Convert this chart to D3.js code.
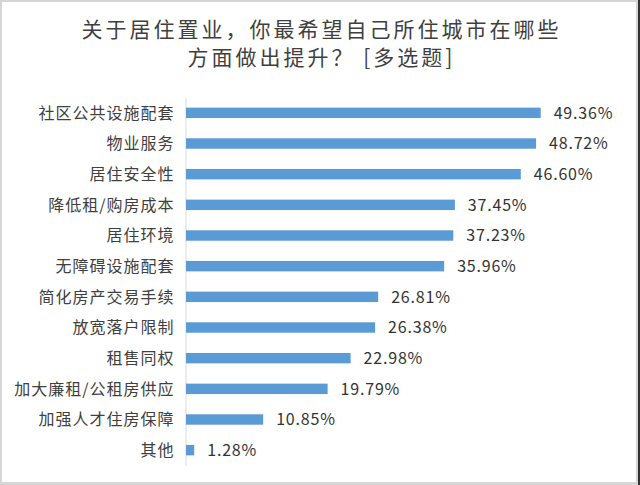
<!DOCTYPE html>
<html>
<head>
<meta charset="utf-8">
<script src="https://cdn.jsdelivr.net/npm/d3@7"></script>
<style>
html,body{margin:0;padding:0;background:#fff;}
svg{display:block;}
text{font-family:"Noto Sans CJK SC","Noto Sans",sans-serif;}
</style>
</head>
<body>
<svg id="chart" width="640" height="485"></svg>
<script>
const titleLines = ["关于居住置业，你最希望自己所住城市在哪些", "方面做出提升？ [多选题]"];
const categories = ["社区公共设施配套","物业服务","居住安全性","降低租/购房成本","居住环境","无障碍设施配套","简化房产交易手续","放宽落户限制","租售同权","加大廉租/公租房供应","加强人才住房保障","其他"];
const values = [49.36, 48.72, 46.60, 37.45, 37.23, 35.96, 26.81, 26.38, 22.98, 19.79, 10.85, 1.28];
const valueLabels = ["49.36%","48.72%","46.60%","37.45%","37.23%","35.96%","26.81%","26.38%","22.98%","19.79%","10.85%","1.28%"];

const svg = d3.select("#chart");
const W = 640, H = 485;

svg.append("rect").attr("x",0).attr("y",0).attr("width",W).attr("height",H).attr("fill","#fff");

// borders
svg.append("rect").attr("x",0).attr("y",0).attr("width",W).attr("height",2).attr("fill","#d6d6d6");
svg.append("rect").attr("x",0).attr("y",0).attr("width",2).attr("height",H).attr("fill","#d6d6d6");
svg.append("rect").attr("x",0).attr("y",482).attr("width",W).attr("height",3).attr("fill","#d6d6d6");
svg.append("rect").attr("x",636).attr("y",0).attr("width",2).attr("height",H).attr("fill","#d6d6d6");
svg.append("rect").attr("x",638).attr("y",0).attr("width",2).attr("height",H).attr("fill","#333");

// title
svg.append("g").selectAll("text").data(titleLines).join("text")
  .attr("x",321.5).attr("y",(d,i)=>36.5+i*28.5)
  .attr("text-anchor","middle")
  .attr("font-size",21).attr("letter-spacing",3)
  .attr("fill","#3f3f3f")
  .text(d=>d);

const x = d3.scaleLinear().domain([0,49.36]).range([185,540.7]);
const y = d3.scaleBand().domain(categories).range([97.5,465.5]).paddingInner(0.66).paddingOuter(0.33);

// axis line
const axis = d3.axisLeft(y).tickSize(0).tickFormat("");
const ag = svg.append("g").attr("transform","translate(185.5,0)").call(axis);
ag.select(".domain").attr("stroke","#d9d9d9").attr("stroke-width",1);

// bars
svg.append("g").selectAll("rect").data(values).join("rect")
  .attr("x",x(0)+1)
  .attr("y",(d,i)=>y(categories[i]))
  .attr("width",d=>x(d)-x(0)-1)
  .attr("height",y.bandwidth())
  .attr("fill","#5b9bd5");

// category labels
svg.append("g").selectAll("text").data(categories).join("text")
  .attr("x",174.5)
  .attr("y",d=>y(d)+y.bandwidth()/2)
  .attr("dy","0.36em")
  .attr("text-anchor","end")
  .attr("font-size",16).attr("letter-spacing",1)
  .attr("fill","#404040")
  .text(d=>d);

// value labels
svg.append("g").selectAll("text").data(values).join("text")
  .attr("x",d=>x(d)+13)
  .attr("y",(d,i)=>y(categories[i])+y.bandwidth()/2)
  .attr("dy","0.36em")
  .attr("font-size",16).attr("letter-spacing",0.8)
  .attr("fill","#333")
  .text((d,i)=>valueLabels[i]);
</script>
</body>
</html>
